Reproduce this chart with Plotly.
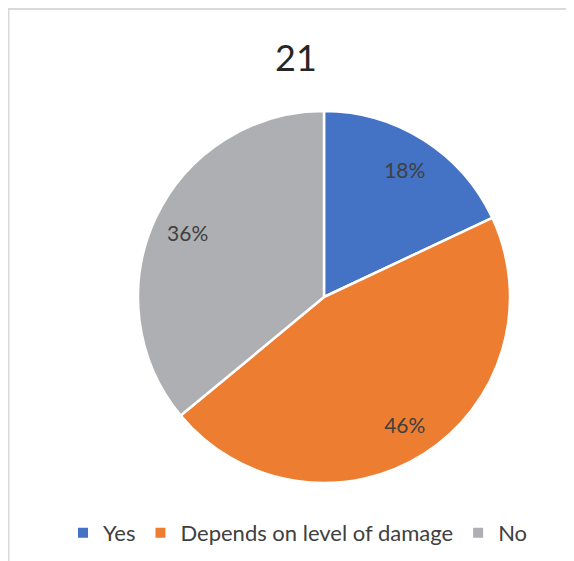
import plotly.graph_objects as go

title_text = "21"
labels = ["Yes", "Depends on level of damage", "No"]
values = [18, 46, 36]
colors = ["#4472C4", "#ED7D31", "#AEAFB2"]

# page has an 8px body margin; the figure is sized to fill the rest of the window
W, H = 566, 553
CX, CY, R = 316, 289, 186  # pie centre / radius in figure pixels
dom = dict(x=[(CX - R) / W, (CX + R) / W], y=[(H - CY - R) / H, (H - CY + R) / H])
font_fam = "Lato, Noto Sans, sans-serif"

fig = go.Figure()
fig.add_trace(go.Pie(
    labels=labels,
    values=values,
    sort=False,
    direction="clockwise",
    rotation=0,
    marker=dict(colors=colors, line=dict(color="white", width=2.5)),
    textinfo="none",
    domain=dom,
    hoverinfo="label+percent",
))
# transparent ring carrying the percentage labels (placed at ~0.8 R like the original)
fig.add_trace(go.Pie(
    labels=labels,
    values=values,
    sort=False,
    direction="clockwise",
    rotation=0,
    hole=0.62,
    marker=dict(colors=["rgba(0,0,0,0)"] * len(labels), line=dict(width=0)),
    texttemplate="%{percent:.0%}",
    textposition="inside",
    insidetextorientation="horizontal",
    textfont=dict(family=font_fam, size=21, color="#404040"),
    domain=dom,
    showlegend=False,
    hoverinfo="skip",
))

fig.update_layout(
    width=W, height=H,
    margin=dict(l=0, r=0, t=0, b=0),
    paper_bgcolor="white",
    plot_bgcolor="white",
    title=dict(text=title_text, x=288 / W, xanchor="center", y=(H - 50) / H, yanchor="middle",
               font=dict(family=font_fam, size=36, color="#262626")),
    showlegend=True,
    legend=dict(orientation="h", x=290 / W, xanchor="center", y=(H - 525) / H, yanchor="middle",
                font=dict(family=font_fam, size=22, color="#404040"),
                itemsizing="constant", traceorder="normal"),
    shapes=[dict(type="rect", xref="paper", yref="paper",
                 x0=0.5 / W, x1=1.2, y0=-0.2, y1=1 - 1 / H,
                 line=dict(color="#D9D9D9", width=2), fillcolor="rgba(0,0,0,0)", layer="below")],
)

fig.write_html("out.html")
